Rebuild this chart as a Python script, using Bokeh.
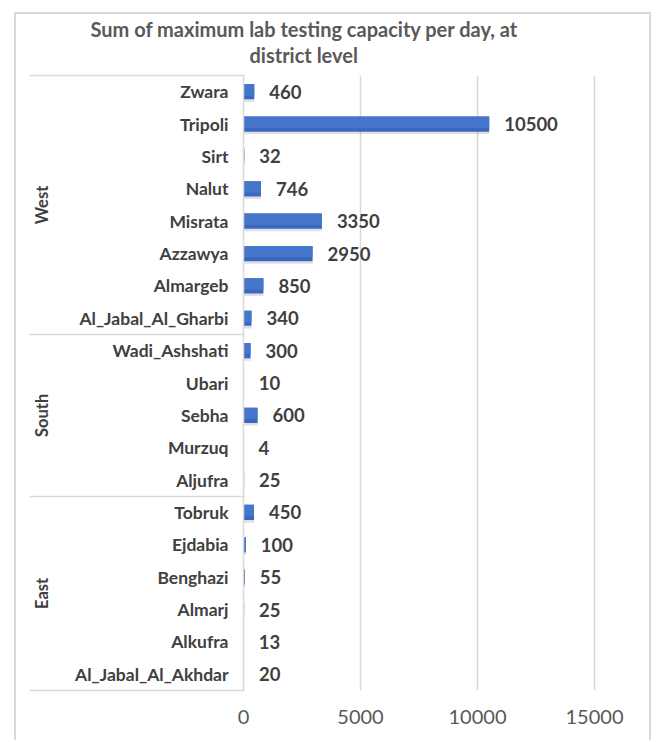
from bokeh.plotting import figure
from bokeh.models import (Range1d, FixedTicker, LinearAxis, ColumnDataSource, Title)
from bokeh.core.properties import value
from bokeh.transform import dodge
from bokeh.embed import file_html
from bokeh.resources import INLINE

# ---- data ----
districts = ["Zwara", "Tripoli", "Sirt", "Nalut", "Misrata", "Azzawya", "Almargeb",
             "Al_Jabal_Al_Gharbi", "Wadi_Ashshati", "Ubari", "Sebha", "Murzuq", "Aljufra",
             "Tobruk", "Ejdabia", "Benghazi", "Almarj", "Alkufra", "Al_Jabal_Al_Akhdar"]
capacity = [460, 10500, 32, 746, 3350, 2950, 850, 340, 300, 10, 600, 4, 25,
            450, 100, 55, 25, 13, 20]
regions = ["West"] * 8 + ["South"] * 5 + ["East"] * 6
x_ticks = [0, 5000, 10000, 15000]
title_lines = ["Sum of maximum lab testing capacity per day, at", "district level"]

FONT = "Lato"
LABEL_COLOR = "#404040"
GRID = "#d9d9d9"
N = len(districts)

W, H = 637, 728
BL, BR, BT, BB = 227, 23, 61, 52
frame_w = W - BL - BR
x_end = 5000 * frame_w / 117.0

# row positions (top row first) on a numeric category scale
row_y = [N - i - 0.5 for i in range(N)]
src = ColumnDataSource(dict(y=row_y, v=capacity, t=[str(c) for c in capacity]))

p = figure(width=W, height=H, y_range=Range1d(0, N), x_range=Range1d(0, x_end),
           output_backend="svg", toolbar_location=None,
           min_border_left=BL, min_border_right=BR, min_border_top=BT, min_border_bottom=BB)
p.margin = (12, 0, 0, 14)
p.styles = {"border-top": "2px solid #d9d9d9", "border-left": "2px solid #d9d9d9",
            "border-right": "2px solid #d9d9d9"}
p.outline_line_color = None
p.background_fill_color = "white"
p.border_fill_color = "white"
p.title_location = None

# title: two centred lines (a thin spacer sits between the title and the plot area)
p.add_layout(Title(text=" ", standoff=6, text_font_size="1px"), "above")
title_offsets = [-153, 6]
for k in (1, 0):
    p.add_layout(Title(text=title_lines[k], align="left", offset=title_offsets[k],
                       standoff=0, text_font=FONT, text_font_style="bold",
                       text_font_size="20px", text_color="#595959"), "above")

# grid
p.xaxis.ticker = FixedTicker(ticks=x_ticks)
p.xgrid.grid_line_color = GRID
p.xgrid.grid_line_width = 1.5
p.ygrid.grid_line_color = None

# x axis
p.xaxis.axis_line_color = None
p.xaxis.major_tick_line_color = None
p.xaxis.major_tick_out = 0
p.xaxis.minor_tick_line_color = None
p.xaxis.major_label_standoff = 19
p.xaxis.major_label_text_font = FONT
p.xaxis.major_label_text_font_size = "20px"
p.xaxis.major_label_text_color = "#595959"

# district axis
yax = p.yaxis[0]
yax.ticker = FixedTicker(ticks=row_y)
yax.major_label_overrides = {y: d for y, d in zip(row_y, districts)}
yax.axis_line_color = GRID
yax.axis_line_width = 1.5
yax.major_tick_line_color = None
yax.major_tick_out = 0
yax.major_tick_in = 0
yax.minor_tick_line_color = None
yax.major_label_standoff = 15
yax.major_label_text_font = FONT
yax.major_label_text_font_style = "bold"
yax.major_label_text_font_size = "17.5px"
yax.major_label_text_color = LABEL_COLOR

# group axis + separators
groups = []
for i, r in enumerate(regions):
    if not groups or groups[-1][0] != r:
        groups.append([r, i, i])
    else:
        groups[-1][2] = i
centers, bounds = [], set()
overrides = {}
for name, i0, i1 in groups:
    top, bot = N - i0, N - i1 - 1
    c = (top + bot) / 2.0
    centers.append(c)
    overrides[c] = name
    bounds.update([top, bot])
bounds = sorted(bounds)

gaxis = LinearAxis(ticker=FixedTicker(ticks=centers),
                   major_label_overrides=overrides, major_label_orientation="vertical")
gaxis.axis_line_color = None
gaxis.major_tick_line_color = None
gaxis.major_tick_out = 0
gaxis.major_tick_in = 0
gaxis.minor_tick_line_color = None
gaxis.major_label_standoff = 20
gaxis.major_label_text_font = FONT
gaxis.major_label_text_font_style = "bold"
gaxis.major_label_text_font_size = "16.5px"
gaxis.major_label_text_color = LABEL_COLOR
p.add_layout(gaxis, "left")

saxis = LinearAxis(ticker=FixedTicker(ticks=bounds),
                   major_label_overrides={b: "" for b in bounds})
saxis.axis_line_color = None
saxis.minor_tick_line_color = None
saxis.major_tick_line_color = GRID
saxis.major_tick_line_width = 1.5
saxis.major_tick_out = 0
saxis.major_tick_in = 215
saxis.major_label_standoff = 0
saxis.major_label_text_font_size = "1px"
p.add_layout(saxis, "left")

# bars with shadow and gradient imitation
p.hbar(y=dodge("y", -0.08), left=0, right="v", height=0.47, source=src,
       fill_color="#000000", fill_alpha=0.12, line_color=None)
p.hbar(y="y", left=0, right="v", height=0.47, source=src,
       fill_color="#3a67c0", line_color=None)
p.hbar(y=dodge("y", 0.06), left=0, right="v", height=0.35, source=src,
       fill_color="#4676cb", line_color=None)

# value labels
p.text(x="v", y="y", text="t", source=src, x_offset=15,
       text_baseline="middle", text_align="left",
       text_font=value(FONT), text_font_style="bold", text_font_size="18.5px",
       text_color=LABEL_COLOR)

open("out.html", "w").write(file_html(p, INLINE))
